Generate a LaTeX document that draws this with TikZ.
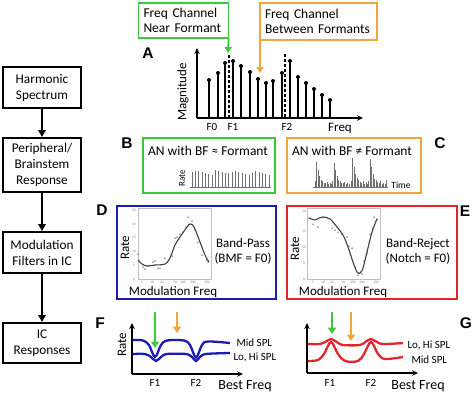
\documentclass[tikz,border=0pt]{standalone}
\usepackage{fontspec}
\setmainfont{Carlito}
\newfontfamily\labfont{Liberation Sans}
\usetikzlibrary{arrows.meta}
\definecolor{gr}{HTML}{3CC83C}
\definecolor{orng}{HTML}{F2A53A}
\definecolor{bl}{HTML}{1C1CB4}
\definecolor{rd}{HTML}{E0282C}
\definecolor{spk}{HTML}{707070}
\begin{document}
\begin{tikzpicture}[x=1pt,y=-1pt,
 flowbox/.style={draw,line width=2pt,minimum width=78pt,align=center,font=\fontsize{13.3}{16}\selectfont,inner sep=0pt},
 flowarrow/.style={line width=1.8pt,-{Triangle[length=7pt,width=7.5pt]}},
 panel/.style={font=\labfont\bfseries\fontsize{15.5}{15}\selectfont},
 axis/.style={line width=1.6pt,-{Stealth[length=6pt,width=5.5pt]}},
 txt/.style={font=\fontsize{13}{15}\selectfont},
 smalltxt/.style={font=\fontsize{11}{12}\selectfont},
 tinytxt/.style={font=\fontsize{3.6}{4}\selectfont,text=gray,inner sep=0pt},
 callout/.style={draw,line width=1.9pt,align=left,inner xsep=5pt,font=\fontsize{13.5}{15}\selectfont},
 panelbox/.style={draw,line width=2.1pt},
 calloutarrow/.style={line width=1.8pt,-{Triangle[length=6pt,width=7pt]}},
 bigarrow/.style={line width=2pt,-{Triangle[length=6.5pt,width=8pt]}},
 stem/.style={line width=1.5pt},
 spike/.style={spk,line width=0.85pt},
 fitcurve/.style={line width=1.1pt,black!75},
 dot/.style={black!70},
 response/.style={line width=2.3pt},
]
\useasboundingbox (0,0) rectangle (474,394);

% ---------- left flow column ----------
\node[flowbox,minimum height=41pt] (hs) at (42,87.5) {Harmonic\\Spectrum};
\node[flowbox,minimum height=54pt] (pb) at (42,165) {Peripheral/\\Brainstem\\Response};
\node[flowbox,minimum height=41pt] (mf) at (42,252.5) {Modulation\\Filters in IC};
\node[flowbox,minimum height=40pt] (ic) at (42,343) {IC\\Responses};
\draw[flowarrow] (hs) -- (pb);
\draw[flowarrow] (pb) -- (mf);
\draw[flowarrow] (mf) -- (ic);

% ---------- panel labels ----------
\node[panel] (lA) at (148,53) {A};
\node[panel] (lB) at (127,143) {B};
\node[panel] (lC) at (440,143) {C};
\node[panel] (lD) at (102,210) {D};
\node[panel] (lE) at (465,211) {E};
\node[panel] (lF) at (100,323) {F};
\node[panel] (lG) at (466,323) {G};

% ---------- panel A ----------
\coordinate (aO) at (197,118);
\coordinate (aY) at (197,48);
\coordinate (aX) at (363,118);
\draw[axis] (aO) -- (aY);
\draw[axis] (aO) -- (aX);
\foreach \x/\t in {209/80,218/73,225/63,233/61,241/66,250/72,258/79,266/83,273/81,282/73,290/61,298/77,306/83,314/89,322/95,330/100}{
  \draw[stem] (\x,118) -- (\x,\t);
  \fill (\x,\t) circle (2pt);
}
\draw[line width=1.1pt,dash pattern=on 3pt off 2pt] (229,55) -- (229,118);
\draw[line width=1.1pt,dash pattern=on 3pt off 2pt] (285,54) -- (285,118);
\node[smalltxt] (f0) at (212,127) {F0};
\node[smalltxt] (f1) at (233,127) {F1};
\node[smalltxt] (f2) at (287,127) {F2};
\node[txt] (fq) at (340,128) {Freq};
\node[txt,rotate=90] (mag) at (183,92) {Magnitude};

\node[callout,draw=gr,text width=80pt,minimum height=35pt] (gA) at (183.5,20.5) {Freq Channel\\Near Formant};
\node[callout,draw=orng,text width=107pt,minimum height=37pt] (oA) at (318.5,21.5) {Freq Channel\\Between Formants};
\coordinate (gAt) at (228,53);
\coordinate (oAt) at (260,73);
\draw[calloutarrow,gr] ([xshift=-0.9pt]gA.south east) -- (gAt);
\draw[calloutarrow,orng] ([xshift=0.9pt]oA.south west) -- (oAt);

% ---------- panel B ----------
\node[panelbox,draw=gr,minimum width=132pt,minimum height=55pt] (bB) at (209,165.5) {};
\node[font=\fontsize{13.5}{15}\selectfont] (tB) at (208,151) {AN with BF ≈ Formant};
\node[font=\fontsize{9}{9}\selectfont,rotate=90] (rB) at (182,178) {Rate};
\draw[spk,line width=0.8pt] (190,187.5) -- (271,187.5);
\foreach \h [count=\i from 0] in {15,16,16,15,14,13,12,17,16,15,14,14,15,16,15,14,13,12,14,16,15,14,13,12}{
  \pgfmathsetmacro\xx{192+\i*3.35}
  \draw[spike] (\xx,187) -- (\xx,187-\h);
}

% ---------- panel C ----------
\node[panelbox,draw=orng,minimum width=134pt,minimum height=55pt] (bC) at (354,165.5) {};
\node[font=\fontsize{13.5}{15}\selectfont] (tC) at (352,151) {AN with BF ≠ Formant};
\node[font=\fontsize{9.5}{9}\selectfont] (tim) at (401,185) {Time};
\draw[spk,line width=0.8pt] (313,187.5) -- (388,187.5);
\foreach \p/\H in {315/25,332.5/24,351/29,368.5/28}{
  \foreach \o/\h in {0/6,1.5/1,3/0.7,4.5/0.45,6/0.3,7.5/0.25,9/0.18,10.5/0.15,12/0.22,13.5/0.12,15/0.16,16.5/0.12}{
    \pgfmathsetmacro\hh{\o==0 ? 6 : \h*\H}
    \draw[spike] (\p+\o,187) -- (\p+\o,187-\hh);
  }
}
\draw[spike] (386,187) -- (386,180);

% ---------- panel D ----------
\node[panelbox,draw=bl,minimum width=159pt,minimum height=93pt] (bD) at (196.5,252.5) {};
\draw[gray!50,line width=0.5pt] (138,208) rectangle (211,279);
\foreach \v/\y in {0/279,5/265,10/251,15/237,20/224,25/210}{\node[tinytxt] at (134,\y) {\v};}
\foreach \v/\x in {5/142,10/152,20/162,50/175,100/183,200/193,500/207}{\node[tinytxt] at (\x,282.5) {\v};}
\draw[fitcurve] plot[smooth,tension=0.6] coordinates {(138,260) (142,264) (147,266) (155,265) (165,264) (170,258) (175,245) (180,237) (187,227) (190,224) (194,227) (200,242) (205,255) (209,262)};
\foreach \x/\y in {138/254,143/267,145/269,148/266,153/262,155/261,158/268,160/268,165/258,168/261,172/256,175/238,177/237,180/234,183/232,186/227,188/217,192/221,195/230,198/242,202/255,207/260,208/262}{\fill[dot] (\x,\y) circle (0.75pt);}
\node[txt,rotate=90] (rD) at (125,248) {Rate};
\node[txt] (mD) at (173,292) {Modulation Freq};
\node[txt,align=center] (bpD) at (243,251) {Band-Pass\\(BMF = F0)};

% ---------- panel E ----------
\node[panelbox,draw=rd,minimum width=170pt,minimum height=93pt] (bE) at (372,252.5) {};
\draw[gray!50,line width=0.5pt] (307,208) rectangle (380,279);
\foreach \v/\y in {0/279,5/263,10/247,15/231,20/211}{\node[tinytxt] at (304,\y) {\v};}
\foreach \v/\x in {5/313,10/323,20/332,50/343,100/353,200/362,500/376}{\node[tinytxt] at (\x,282.5) {\v};}
\draw[fitcurve] plot[smooth,tension=0.6] coordinates {(309,218) (315,220) (319,218) (323,217) (330,219) (337,227) (343,235) (348,247) (353,262) (357,272) (360,273) (363,268) (367,252) (372,232) (377,219)};
\foreach \x/\y in {309/218,313/224,318/227,323/217,332/228,335/230,338/232,342/234,347/237,349/246,352/248,355/267,358/275,362/274,364/261,367/253,370/234,373/228,374/217,377/219}{\fill[dot] (\x,\y) circle (0.75pt);}
\node[txt,rotate=90] (rE) at (295,249) {Rate};
\node[txt] (mE) at (343,292) {Modulation Freq};
\node[txt,align=center] (brE) at (418,251) {Band-Reject\\(Notch = F0)};

% ---------- panel F ----------
\coordinate (fO) at (132,374);
\coordinate (fY) at (132,323);
\coordinate (fX) at (243,374);
\draw[axis] (fO) -- (fY);
\draw[axis] (fO) -- (fX);
\node[txt,rotate=90] (rF) at (122,345) {Rate};
\node[smalltxt] (f1F) at (155,383) {F1};
\node[smalltxt] (f2F) at (196,383) {F2};
\node[font=\fontsize{14}{14}\selectfont] (bfF) at (245,386) {Best Freq};
\draw[response,bl] plot[smooth,tension=0.55] coordinates {(133,340) (143,340.5) (149,345) (155,357) (161,345) (167,340.5) (184,340.5) (190,345) (196,357.5) (202,345) (208,341.5) (230,343)};
\draw[response,bl] plot[smooth,tension=0.55] coordinates {(133,354) (145,354) (151,357) (156,361) (161,357) (167,354) (186,354) (192,357) (196,361) (200,357) (206,354) (230,353)};
\node[smalltxt,anchor=west] (mF) at (233,343) {Mid SPL};
\node[smalltxt,anchor=west] (lhF) at (230,357) {Lo, Hi SPL};
\coordinate (gFs) at (155,312); \coordinate (gFe) at (155,348);
\coordinate (oFs) at (177,312); \coordinate (oFe) at (177,333);
\draw[bigarrow,gr] (gFs) -- (gFe);
\draw[bigarrow,orng] (oFs) -- (oFe);

% ---------- panel G ----------
\coordinate (gO) at (307,373);
\coordinate (gY) at (307,323);
\coordinate (gX) at (418,373);
\draw[axis] (gO) -- (gY);
\draw[axis] (gO) -- (gX);
\node[smalltxt] (f1G) at (330,383) {F1};
\node[smalltxt] (f2G) at (371,383) {F2};
\node[font=\fontsize{14}{14}\selectfont] (bfG) at (418,386) {Best Freq};
\draw[response,rd] plot[smooth,tension=0.55] coordinates {(308,344) (320,344) (326,341.5) (331,339) (336,341.5) (343,345) (360,345) (366,341.5) (371,339) (376,341.5) (383,344) (403,343)};
\draw[response,rd] plot[smooth,tension=0.55] coordinates {(308,361) (318,360) (324,354) (331,342) (338,354) (345,361) (358,361) (364,354) (371,342) (378,354) (385,359) (403,357)};
\node[smalltxt,anchor=west] (lhG) at (404,345) {Lo, Hi SPL};
\node[smalltxt,anchor=west] (mG) at (408,360) {Mid SPL};
\coordinate (gGs) at (332,312); \coordinate (gGe) at (332,334);
\coordinate (oGs) at (351,312); \coordinate (oGe) at (351,341);
\draw[bigarrow,gr] (gGs) -- (gGe);
\draw[bigarrow,orng] (oGs) -- (oGe);
\end{tikzpicture}
\end{document}
